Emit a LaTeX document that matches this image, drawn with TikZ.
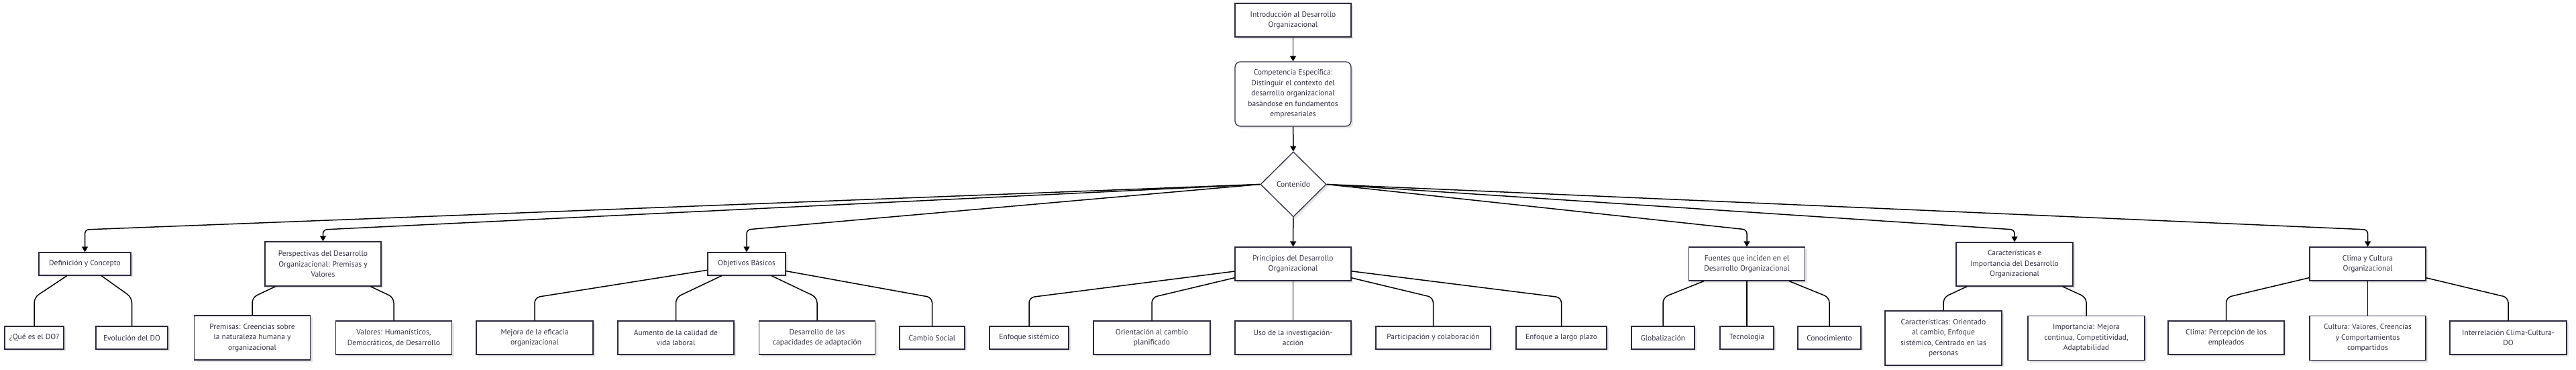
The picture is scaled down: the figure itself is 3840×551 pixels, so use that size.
\documentclass[tikz,border=0pt]{standalone}
\usepackage{fontspec}
\setmainfont{PT Sans}
\usetikzlibrary{shapes.geometric,arrows.meta,shadows}
\definecolor{bline}{RGB}{44,42,64}
\definecolor{btext}{RGB}{51,51,70}
\begin{document}
\begin{tikzpicture}[x=1pt,y=-1pt,
  box/.style={draw=bline, line width=1.3pt, fill=white, text=btext, align=center,
    inner sep=0pt, font=\fontsize{11.5}{15.5}\selectfont,
    drop shadow={shadow xshift=3pt,shadow yshift=-3pt,fill=black!10,opacity=1}},
  sz/.style 2 args={minimum width=#1pt, minimum height=#2pt},
  arr/.style={line width=1.5pt, draw=black, -{Triangle[length=8pt,width=9pt]}},
  link/.style={line width=1.5pt, draw=black, rounded corners=8pt},
  fan/.style={line width=1.5pt, draw=black, rounded corners=6pt, -{Triangle[length=8pt,width=9pt]}}]
\useasboundingbox (0,0) rectangle (3840,551);
\coordinate (by) at (0,342);
\coordinate (cy) at (0,443);
% top
\node[box, sz={173}{50}] (intro) at (1927.5,30) {Introducción al Desarrollo\\Organizacional};
\node[box, sz={173}{96}, rounded corners=8pt] (comp) at (1927.5,140) {Competencia Específica:\\Distinguir el contexto del\\desarrollo organizacional\\basándose en fundamentos\\empresariales};
\node[box, shape=diamond, aspect=1, minimum width=98pt, minimum height=97pt] (cont) at (1928,274.5) {Contenido};
% level 2
\node[box, sz={137}{34}] (def) at (126.5,393) {Definición y Concepto};
\node[box, sz={173}{66}] (persp) at (481.5,393) {Perspectivas del Desarrollo\\Organizacional: Premisas y\\Valores};
\node[box, sz={116}{34}] (obj) at (1113,393) {Objetivos Básicos};
\node[box, sz={173}{50}] (princ) at (1927.5,393) {Principios del Desarrollo\\Organizacional};
\node[box, sz={173}{50}] (fuent) at (2604,393) {Fuentes que inciden en el\\Desarrollo Organizacional};
\node[box, sz={174}{65}] (carimp) at (3003,393.5) {Características e\\Importancia del Desarrollo\\Organizacional};
\node[box, sz={173}{50}] (clicul) at (3529.5,393) {Clima y Cultura\\Organizacional};
% level 3
\node[box, sz={88}{34}] (que) at (51,503) {¿Qué es el DO?};
\node[box, sz={107}{34}] (evol) at (196.5,503) {Evolución del DO};
\node[box, sz={173}{66}] (prem) at (376,503) {Premisas: Creencias sobre\\la naturaleza humana y\\organizacional};
\node[box, sz={173}{50}] (valo) at (587,503) {Valores: Humanísticos,\\Democráticos, de Desarrollo};
\node[box, sz={174}{50}] (mejo) at (797,503) {Mejora de la eficacia\\organizacional};
\node[box, sz={173}{50}] (aume) at (1007.5,503) {Aumento de la calidad de\\vida laboral};
\node[box, sz={173}{50}] (desa) at (1218,503) {Desarrollo de las\\capacidades de adaptación};
\node[box, sz={97}{34}] (camb) at (1389.5,503) {Cambio Social};
\node[box, sz={118}{34}] (sist) at (1534,503) {Enfoque sistémico};
\node[box, sz={174}{50}] (orie) at (1717,503) {Orientación al cambio\\planificado};
\node[box, sz={173}{50}] (usoi) at (1927.5,503) {Uso de la investigación-\\acción};
\node[box, sz={171}{34}] (part) at (2136.5,503) {Participación y colaboración};
\node[box, sz={135}{34}] (larg) at (2327.5,503) {Enfoque a largo plazo};
\node[box, sz={94}{34}] (glob) at (2479,503) {Globalización};
\node[box, sz={80}{34}] (tecn) at (2604,503) {Tecnología};
\node[box, sz={94}{34}] (cono) at (2727,503) {Conocimiento};
\node[box, sz={174}{81}] (cara) at (2897,503.5) {Características: Orientado\\al cambio, Enfoque\\sistémico, Centrado en las\\personas};
\node[box, sz={174}{66}] (impo) at (3110,503.5) {Importancia: Mejora\\continua, Competitividad,\\Adaptabilidad};
\node[box, sz={173}{50}] (clim) at (3318.5,503) {Clima: Percepción de los\\empleados};
\node[box, sz={173}{66}] (cult) at (3529.5,503.5) {Cultura: Valores, Creencias\\y Comportamientos\\compartidos};
\node[box, sz={174}{50}] (inte) at (3739,503) {Interrelación Clima-Cultura-\\DO};
% top connectors
\draw[arr] (intro) -- (comp);
\draw[arr] (comp) -- (cont);
\draw[arr] (cont) -- (princ);
% fan
\draw[fan] (cont.west) -- (def.north |- by) -- (def.north);
\draw[fan] (cont.west) -- (persp.north |- by) -- (persp.north);
\draw[fan] (cont.west) -- (obj.north |- by) -- (obj.north);
\draw[fan] (cont.east) -- (fuent.north |- by) -- (fuent.north);
\draw[fan] (cont.east) -- (carimp.north |- by) -- (carimp.north);
\draw[fan] (cont.east) -- (clicul.north |- by) -- (clicul.north);
% level 3 links
\draw[link] (def) -- (que.north |- cy) -- (que.north);
\draw[link] (def) -- (evol.north |- cy) -- (evol.north);
\draw[link] (persp) -- (prem.north |- cy) -- (prem.north);
\draw[link] (persp) -- (valo.north |- cy) -- (valo.north);
\draw[link] (obj) -- (mejo.north |- cy) -- (mejo.north);
\draw[link] (obj) -- (aume.north |- cy) -- (aume.north);
\draw[link] (obj) -- (desa.north |- cy) -- (desa.north);
\draw[link] (obj) -- (camb.north |- cy) -- (camb.north);
\draw[link] (princ) -- (sist.north |- cy) -- (sist.north);
\draw[link] (princ) -- (orie.north |- cy) -- (orie.north);
\draw[link] (princ) -- (usoi);
\draw[link] (princ) -- (part.north |- cy) -- (part.north);
\draw[link] (princ) -- (larg.north |- cy) -- (larg.north);
\draw[link] (fuent) -- (glob.north |- cy) -- (glob.north);
\draw[link] (fuent) -- (tecn);
\draw[link] (fuent) -- (cono.north |- cy) -- (cono.north);
\draw[link] (carimp) -- (cara.north |- cy) -- (cara.north);
\draw[link] (carimp) -- (impo.north |- cy) -- (impo.north);
\draw[link] (clicul) -- (clim.north |- cy) -- (clim.north);
\draw[link] (clicul) -- (cult);
\draw[link] (clicul) -- (inte.north |- cy) -- (inte.north);
\end{tikzpicture}
\end{document}
